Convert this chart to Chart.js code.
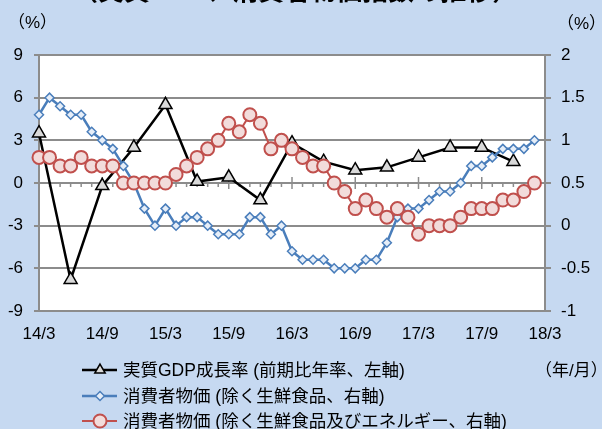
<!DOCTYPE html>
<html lang="ja">
<head>
<meta charset="utf-8">
<script src="https://cdn.jsdelivr.net/npm/chart.js@4.4.1/dist/chart.umd.min.js"></script>
<style>
  html, body { margin: 0; padding: 0; background: #c6d9f1; overflow: hidden; }
  #wrap { position: relative; width: 602px; height: 429px; }
  #chart { position: absolute; left: 0; top: 0; }
  .txt { position: absolute; font-family: "Liberation Sans", "Noto Sans CJK JP", sans-serif; color: #000; white-space: nowrap; }
  #title { left: 72px; top: -22px; font-size: 26px; font-weight: bold; line-height: 26px; }
  #unitL { left: 8px; top: 8px; font-size: 17px; }
  #unitR { left: 557px; top: 9px; font-size: 17px; }
  #unitX { left: 535px; top: 356px; font-size: 17px; }
</style>
</head>
<body>
<div id="wrap">
  <canvas id="chart" width="602" height="429"></canvas>
  <div class="txt" id="title">（実質GDP、消費者物価指数の推移）</div>
  <div class="txt" id="unitL">（%）</div>
  <div class="txt" id="unitR">（%）</div>
  <div class="txt" id="unitX">（年/月）</div>
</div>
<script>
// months 2014/3 .. 2018/3
const months = [
  "14/3","14/4","14/5","14/6","14/7","14/8","14/9","14/10","14/11","14/12",
  "15/1","15/2","15/3","15/4","15/5","15/6","15/7","15/8","15/9","15/10","15/11","15/12",
  "16/1","16/2","16/3","16/4","16/5","16/6","16/7","16/8","16/9","16/10","16/11","16/12",
  "17/1","17/2","17/3","17/4","17/5","17/6","17/7","17/8","17/9","17/10","17/11","17/12",
  "18/1","18/2","18/3"
];
const tickMonths = ["14/3","14/9","15/3","15/9","16/3","16/9","17/3","17/9","18/3"];

// real GDP growth (annualised q/q, left axis) - quarterly, null in between
const gdp = [
  3.5, null, null, -6.8, null, null, -0.2, null, null, 2.5,
  null, null, 5.5, null, null, 0.1, null, null, 0.4, null, null, -1.2,
  null, null, 2.8, null, null, 1.5, null, null, 0.9, null, null, 1.1,
  null, null, 1.8, null, null, 2.5, null, null, 2.5, null, null, 1.5,
  null, null, null
];

// CPI excl. fresh food (right axis)
const cpiCore = [
  1.3, 1.5, 1.4, 1.3, 1.3, 1.1, 1.0, 0.9, 0.7, 0.5,
  0.2, 0.0, 0.2, 0.0, 0.1, 0.1, 0.0, -0.1, -0.1, -0.1, 0.1, 0.1,
  -0.1, 0.0, -0.3, -0.4, -0.4, -0.4, -0.5, -0.5, -0.5, -0.4, -0.4, -0.2,
  0.1, 0.2, 0.2, 0.3, 0.4, 0.4, 0.5, 0.7, 0.7, 0.8, 0.9, 0.9,
  0.9, 1.0, null
];

// CPI excl. fresh food and energy (right axis)
const cpiCoreCore = [
  0.8, 0.8, 0.7, 0.7, 0.8, 0.7, 0.7, 0.7, 0.5, 0.5,
  0.5, 0.5, 0.5, 0.6, 0.7, 0.8, 0.9, 1.0, 1.2, 1.1, 1.3, 1.2,
  0.9, 1.0, 0.9, 0.8, 0.7, 0.7, 0.5, 0.4, 0.2, 0.3, 0.2, 0.1,
  0.2, 0.1, -0.1, 0.0, 0.0, 0.0, 0.1, 0.2, 0.2, 0.2, 0.3, 0.3,
  0.4, 0.5, null
];

const leftTicks = [9, 6, 3, 0, -3, -6, -9];
const rightTicks = [2, 1.5, 1, 0.5, 0, -0.5, -1];

const seriesNames = [
  "実質GDP成長率 (前期比年率、左軸)",
  "消費者物価 (除く生鮮食品、右軸)",
  "消費者物価 (除く生鮮食品及びエネルギー、右軸)"
];

const GRID = "#8c8c8c";
const FONT = "'Liberation Sans', 'Noto Sans CJK JP', sans-serif";

const backgroundPlugin = {
  id: 'bg',
  beforeDraw(chart) {
    const { ctx, chartArea: a } = chart;
    ctx.save();
    ctx.fillStyle = '#c6d9f1';
    ctx.fillRect(0, 0, chart.width, chart.height);
    ctx.fillStyle = '#ffffff';
    ctx.fillRect(a.left, a.top, a.right - a.left, a.bottom - a.top);
    ctx.restore();
  }
};

// small month ticks on the zero line, like the category axis crossing at 0
const zeroTicksPlugin = {
  id: 'zeroTicks',
  beforeDatasetsDraw(chart) {
    const { ctx, scales } = chart;
    const y0 = scales.y.getPixelForValue(0);
    ctx.save();
    ctx.strokeStyle = GRID;
    ctx.lineWidth = 1.5;
    months.forEach((m, i) => {
      const x = scales.x.getPixelForValue(i);
      const major = tickMonths.includes(m);
      ctx.beginPath();
      ctx.moveTo(x, major ? y0 - 6 : y0);
      ctx.lineTo(x, major ? y0 + 6 : y0 + 4);
      ctx.stroke();
    });
    ctx.restore();
  }
};

const legendPlugin = {
  id: 'lineLegend',
  afterDraw(chart) {
    const { ctx } = chart;
    const rows = [370, 396, 421];
    ctx.save();
    chart.data.datasets.forEach((ds, i) => {
      const y = rows[i];
      ctx.strokeStyle = ds.borderColor;
      ctx.lineWidth = ds.borderWidth;
      ctx.beginPath();
      ctx.moveTo(82, y);
      ctx.lineTo(117, y);
      ctx.stroke();
      ctx.fillStyle = ds.pointBackgroundColor;
      ctx.strokeStyle = ds.pointBorderColor;
      ctx.lineWidth = ds.pointBorderWidth;
      Chart.helpers.drawPoint(ctx, {
        pointStyle: ds.pointStyle,
        radius: ds.legendRadius,
        borderWidth: ds.pointBorderWidth,
        rotation: 0
      }, 100, y);
      ctx.fillStyle = '#000';
      ctx.font = '17.5px ' + FONT;
      ctx.textBaseline = 'middle';
      ctx.fillText(seriesNames[i], 123, y + 1);
    });
    ctx.restore();
  }
};

new Chart(document.getElementById('chart'), {
  type: 'line',
  data: {
    labels: months,
    datasets: [
      {
        label: seriesNames[0],
        data: gdp,
        yAxisID: 'y',
        spanGaps: true,
        borderColor: '#000000',
        borderWidth: 2.5,
        pointStyle: 'triangle',
        pointRadius: 7.5,
        legendRadius: 6,
        pointBackgroundColor: '#d9d9d9',
        pointBorderColor: '#000000',
        pointBorderWidth: 1.5,
        order: 3
      },
      {
        label: seriesNames[1],
        data: cpiCore,
        yAxisID: 'y1',
        borderColor: '#4a7ebb',
        borderWidth: 2.5,
        pointStyle: 'rectRot',
        pointRadius: 4.5,
        legendRadius: 4.5,
        pointBackgroundColor: '#e6eef8',
        pointBorderColor: '#4a7ebb',
        pointBorderWidth: 1.5,
        order: 2
      },
      {
        label: seriesNames[2],
        data: cpiCoreCore,
        yAxisID: 'y1',
        borderColor: '#c0504d',
        borderWidth: 2,
        pointStyle: 'circle',
        pointRadius: 6.5,
        legendRadius: 6.5,
        pointBackgroundColor: '#f2dcdb',
        pointBorderColor: '#c0504d',
        pointBorderWidth: 2,
        order: 1
      }
    ]
  },
  options: {
    responsive: false,
    animation: false,
    events: [],
    layout: { padding: { top: 55, left: 0, right: 0, bottom: 0 } },
    plugins: { legend: { display: false }, tooltip: { enabled: false } },
    scales: {
      x: {
        type: 'category',
        offset: false,
        grid: { display: false, drawTicks: false },
        border: { display: false },
        ticks: {
          autoSkip: false,
          maxRotation: 0,
          padding: 13,
          color: '#000',
          font: { family: FONT, size: 17 },
          callback: (v, i) => tickMonths.includes(months[i]) ? months[i] : ''
        },
        afterFit: s => { s.height = 118; }
      },
      y: {
        position: 'left',
        min: -9, max: 9,
        afterBuildTicks: s => { s.ticks = leftTicks.map(v => ({ value: v })); },
        grid: { color: GRID, lineWidth: 2, tickLength: 5 },
        border: { display: true, color: GRID, width: 2 },
        ticks: {
          padding: 11, color: '#000', font: { family: FONT, size: 17 },
          callback: v => String(v)
        },
        afterFit: s => { s.width = 39; }
      },
      y1: {
        position: 'right',
        min: -1, max: 2,
        afterBuildTicks: s => { s.ticks = rightTicks.map(v => ({ value: v })); },
        grid: { drawOnChartArea: false, color: GRID, lineWidth: 2, tickLength: 6 },
        border: { display: true, color: GRID, width: 2 },
        ticks: {
          padding: 10, color: '#000', font: { family: FONT, size: 17 },
          callback: v => String(v)
        },
        afterFit: s => { s.width = 57; }
      }
    }
  },
  plugins: [backgroundPlugin, zeroTicksPlugin, legendPlugin]
});
</script>
</body>
</html>
